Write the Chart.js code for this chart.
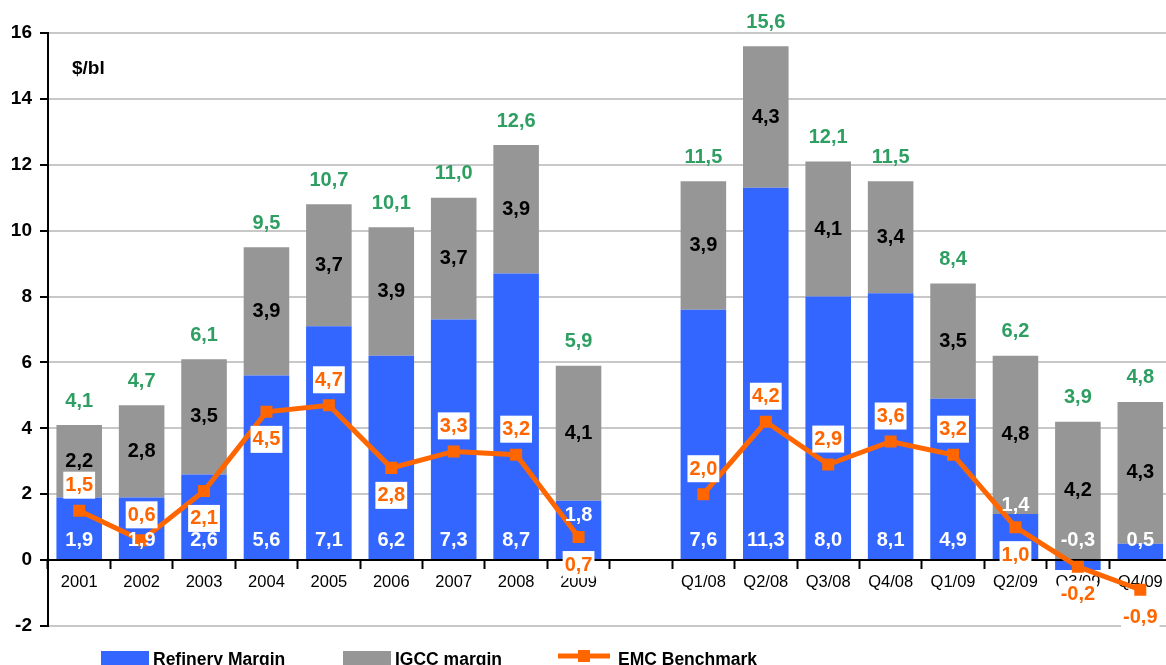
<!DOCTYPE html>
<html>
<head>
<meta charset="utf-8">
<script src="https://cdn.jsdelivr.net/npm/chart.js@4.4.1/dist/chart.umd.min.js"></script>
<style>
  html, body { margin: 0; padding: 0; overflow: hidden; background: #fff; width: 1166px; height: 665px; }
  #wrap { position: absolute; left: 0; top: 0; width: 1180px; height: 690px; }
</style>
</head>
<body>
<div id="wrap"><canvas id="marginChart" width="1180" height="690"></canvas></div>
<script>
// Données
const categories = ["2001", "2002", "2003", "2004", "2005", "2006", "2007", "2008", "2009", "",
  "Q1/08", "Q2/08", "Q3/08", "Q4/08", "Q1/09", "Q2/09", "Q3/09", "Q4/09"];
const refineryMargin = [1.9, 1.9, 2.6, 5.6, 7.1, 6.2, 7.3, 8.7, 1.8, null, 7.6, 11.3, 8.0, 8.1, 4.9, 1.4, -0.3, 0.5];
const igccMargin = [2.2, 2.8, 3.5, 3.9, 3.7, 3.9, 3.7, 3.9, 4.1, null, 3.9, 4.3, 4.1, 3.4, 3.5, 4.8, 4.2, 4.3];
const totalMargin = [4.1, 4.7, 6.1, 9.5, 10.7, 10.1, 11.0, 12.6, 5.9, null, 11.5, 15.6, 12.1, 11.5, 8.4, 6.2, 3.9, 4.8];
const emcBenchmark = [1.5, 0.6, 2.1, 4.5, 4.7, 2.8, 3.3, 3.2, 0.7, null, 2.0, 4.2, 2.9, 3.6, 3.2, 1.0, -0.2, -0.9];

// EMC labels placed under the point for these categories
const emcBelow = ["2003", "2004", "2006", "2009", "Q2/09", "Q3/09", "Q4/09"];

const FONT = "'Liberation Sans', Arial, sans-serif";
const fmt = (v) => v.toFixed(1).replace(".", ",");

const labelsPlugin = {
  id: "valueLabels",
  afterDatasetsDraw: (chart) => {
    const ctx = chart.ctx;
    const yScale = chart.scales.y;
    const blue = chart.getDatasetMeta(0).data;
    const gray = chart.getDatasetMeta(1).data;
    const line = chart.getDatasetMeta(2).data;
    ctx.save();
    ctx.textAlign = "center";
    ctx.textBaseline = "middle";
    ctx.font = "bold 20px " + FONT;
    categories.forEach((c, i) => {
      if (refineryMargin[i] == null) return;
      const b = blue[i];
      const g = gray[i];
      let by = yScale.getPixelForValue(0) - 20;
      // move the white label above the marker when the EMC label sits below it
      if (emcBelow.includes(c) && Math.abs(line[i].y - by) < 20) by = line[i].y - 22;
      ctx.fillStyle = "#ffffff";
      ctx.fillText(fmt(refineryMargin[i]), b.x, by);
      ctx.fillStyle = "#000000";
      ctx.fillText(fmt(igccMargin[i]), g.x, (g.y + g.base) / 2);
      ctx.fillStyle = "#2e9e62";
      ctx.fillText(fmt(totalMargin[i]), g.x, g.y - 24);
    });
    categories.forEach((c, i) => {
      const v = emcBenchmark[i];
      if (v == null) return;
      const p = line[i];
      const ty = emcBelow.includes(c) ? p.y + 27 : p.y - 26;
      const t = fmt(v);
      const w = ctx.measureText(t).width + 4;
      ctx.fillStyle = "#ffffff";
      ctx.fillRect(p.x - w / 2, ty - 13, w, 27);
      ctx.fillStyle = "#ff6600";
      ctx.fillText(t, p.x, ty + 1);
    });
    ctx.restore();
  },
  afterDraw: (chart) => {
    const ctx = chart.ctx;
    ctx.save();
    ctx.textBaseline = "middle";
    ctx.textAlign = "left";
    ctx.fillStyle = "#000";
    ctx.font = "bold 19px " + FONT;
    ctx.fillText("$/bl", 72, 69);

    // légende
    const ly = 660;
    ctx.font = "bold 17.5px " + FONT;
    ctx.fillStyle = "#3366ff";
    ctx.fillRect(101, 651, 48, 16);
    ctx.fillStyle = "#000";
    ctx.fillText("Refinery Margin", 153, ly);
    ctx.fillStyle = "#969696";
    ctx.fillRect(343, 651, 48, 16);
    ctx.fillStyle = "#000";
    ctx.fillText("IGCC margin", 395, ly);
    ctx.strokeStyle = "#ff6600";
    ctx.lineWidth = 5;
    ctx.beginPath();
    ctx.moveTo(558, 656);
    ctx.lineTo(610, 656);
    ctx.stroke();
    ctx.fillStyle = "#ff6600";
    ctx.fillRect(578, 650, 12, 12);
    ctx.fillStyle = "#000";
    ctx.fillText("EMC Benchmark", 618, ly);
    ctx.restore();
  },
};

const config = {
  type: "bar",
  data: {
    labels: categories,
    datasets: [
      {
        label: "Refinery Margin",
        data: refineryMargin,
        backgroundColor: "#3366ff",
        stack: "m",
        order: 1,
        barPercentage: 0.73,
        categoryPercentage: 1,
      },
      {
        label: "IGCC margin",
        data: igccMargin,
        backgroundColor: "#969696",
        stack: "m",
        order: 1,
        barPercentage: 0.73,
        categoryPercentage: 1,
      },
      {
        type: "line",
        label: "EMC Benchmark",
        data: emcBenchmark,
        borderColor: "#ff6600",
        backgroundColor: "#ff6600",
        borderWidth: 5,
        pointStyle: "rect",
        pointRadius: 8.5,
        pointBorderWidth: 0,
        spanGaps: false,
        tension: 0,
        order: 0,
      },
    ],
  },
  options: {
    responsive: false,
    animation: false,
    devicePixelRatio: 1,
    layout: { padding: { top: 33, right: 2, bottom: 64, left: 0 } },
    plugins: {
      legend: { display: false },
      tooltip: { enabled: false },
    },
    scales: {
      x: {
        stacked: true,
        position: { y: 0 },
        grid: {
          drawOnChartArea: false,
          drawTicks: true,
          tickLength: 8,
          tickColor: "#000",
          tickWidth: 2,
          offset: true,
        },
        border: { display: true, color: "#000", width: 2 },
        ticks: {
          color: "#000",
          font: { family: FONT, size: 16.5 },
          padding: 4,
          maxRotation: 0,
          autoSkip: false,
        },
      },
      y: {
        stacked: true,
        min: -2,
        max: 16,
        ticks: {
          stepSize: 2,
          color: "#000",
          font: { family: FONT, size: 19, weight: "bold" },
          padding: 8,
        },
        grid: {
          color: "#c8c8c8",
          lineWidth: 2,
          tickColor: "#000",
          tickLength: 8,
          tickWidth: 2,
        },
        border: { display: true, color: "#000", width: 2 },
        afterFit: (scale) => { scale.width = 48; },
      },
    },
  },
  plugins: [labelsPlugin],
};

new Chart(document.getElementById("marginChart"), config);
</script>
</body>
</html>
